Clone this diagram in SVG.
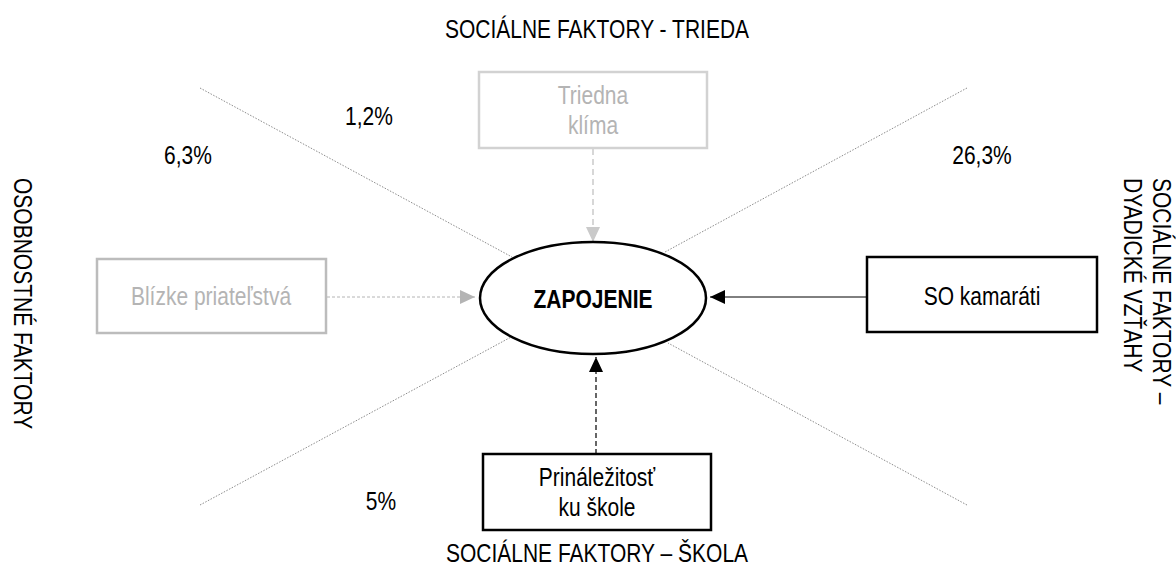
<svg xmlns="http://www.w3.org/2000/svg" width="1176" height="569" viewBox="0 0 1176 569">
  <style>
    text { font-family: "Liberation Sans", Arial, sans-serif; font-size: 25px; fill: #000; }
    .mid { text-anchor: middle; }
    .faint { fill: #b4b4b4; }
    .box { fill: #fff; stroke: #000; stroke-width: 2.5; }
    .box-faint { fill: #fff; stroke: #d2d2d2; stroke-width: 2.5; }
    .box-faint2 { fill: #fff; stroke: #bcbcbc; stroke-width: 2.5; }
    .divider { stroke: #8c8c8c; stroke-width: 1; stroke-dasharray: 1.5 1.5; fill: none; }
  </style>
  <defs>
    <marker id="head-black" markerWidth="15" markerHeight="14" refX="15" refY="7" orient="auto" markerUnits="userSpaceOnUse">
      <path d="M0,0 L15,7 L0,14 Z" fill="#000"/>
    </marker>
    <marker id="head-gray" markerWidth="15" markerHeight="14" refX="15" refY="7" orient="auto" markerUnits="userSpaceOnUse">
      <path d="M0,0 L15,7 L0,14 Z" fill="#b4b4b4"/>
    </marker>
    <marker id="head-light" markerWidth="15" markerHeight="14" refX="15" refY="7" orient="auto" markerUnits="userSpaceOnUse">
      <path d="M0,0 L15,7 L0,14 Z" fill="#cacaca"/>
    </marker>
  </defs>

  <rect width="1176" height="569" fill="#fff"/>

  <!-- dotted sector dividers -->
  <g id="dividers">
    <line class="divider" x1="200" y1="88" x2="512" y2="257"/>
    <line class="divider" x1="967" y1="88" x2="665" y2="252"/>
    <line class="divider" x1="200" y1="505" x2="513" y2="336"/>
    <line class="divider" x1="967" y1="505" x2="668" y2="343"/>
  </g>

  <!-- sector captions (condensed horizontally to a narrow face) -->
  <g id="captions">
    <text class="mid" transform="translate(597,38) scale(0.84,1)">SOCIÁLNE FAKTORY - TRIEDA</text>
    <text class="mid" transform="translate(597,562) scale(0.84,1)">SOCIÁLNE FAKTORY – ŠKOLA</text>
    <text transform="translate(14,178) rotate(90) scale(0.84,1)">OSOBNOSTNÉ FAKTORY</text>
    <text transform="translate(1153,178) rotate(90) scale(0.84,1)">SOCIÁLNE FAKTORY –<tspan x="0" dy="29">DYADICKÉ VZŤAHY</tspan></text>
  </g>

  <!-- explained variance per sector -->
  <g id="percentages">
    <text class="mid" transform="translate(369,125) scale(0.84,1)">1,2%</text>
    <text class="mid" transform="translate(188,164) scale(0.84,1)">6,3%</text>
    <text class="mid" transform="translate(982,164) scale(0.84,1)">26,3%</text>
    <text class="mid" transform="translate(381,510) scale(0.84,1)">5%</text>
  </g>

  <!-- connectors -->
  <g id="connectors">
    <line x1="593" y1="149" x2="593" y2="242" stroke="#cacaca" stroke-width="1.5" stroke-dasharray="6 4" marker-end="url(#head-light)"/>
    <line x1="327" y1="297" x2="475" y2="297" stroke="#b4b4b4" stroke-width="1" stroke-dasharray="3 2" marker-end="url(#head-gray)"/>
    <line x1="866" y1="297" x2="710" y2="297" stroke="#000" stroke-width="1" marker-end="url(#head-black)"/>
    <line x1="596" y1="454" x2="596" y2="357" stroke="#000" stroke-width="1.2" stroke-dasharray="5 3" marker-end="url(#head-black)"/>
  </g>

  <g id="node-zapojenie">
    <ellipse cx="593" cy="298" rx="113" ry="56" fill="#fff" stroke="#000" stroke-width="2.5"/>
    <text class="mid" font-weight="bold" transform="translate(593,308) scale(0.84,1)">ZAPOJENIE</text>
  </g>

  <g id="node-triedna-klima">
    <rect class="box-faint" x="479" y="72" width="228" height="76"/>
    <text class="mid faint" transform="translate(593,104) scale(0.84,1)">Triedna</text>
    <text class="mid faint" transform="translate(593,134) scale(0.84,1)">klíma</text>
  </g>

  <g id="node-blizke-priatelstva">
    <rect class="box-faint2" x="97" y="259" width="229" height="74"/>
    <text class="mid faint" transform="translate(211,305) scale(0.84,1)">Blízke priateľstvá</text>
  </g>

  <g id="node-so-kamarati">
    <rect class="box" x="867" y="257" width="230" height="75"/>
    <text class="mid" transform="translate(982,305) scale(0.84,1)">SO kamaráti</text>
  </g>

  <g id="node-prinalezitost">
    <rect class="box" x="483" y="454" width="228" height="76"/>
    <text class="mid" transform="translate(597,486) scale(0.84,1)">Prináležitosť</text>
    <text class="mid" transform="translate(597,516) scale(0.84,1)">ku škole</text>
  </g>
</svg>
